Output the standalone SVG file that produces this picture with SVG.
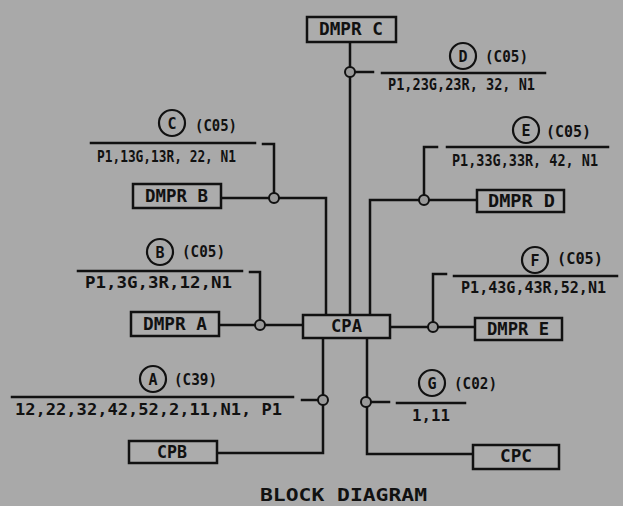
<svg xmlns="http://www.w3.org/2000/svg" width="623" height="506" viewBox="0 0 623 506">
<style>
.bg{fill:#a9a9a9}
.ln{fill:none;stroke:#111;stroke-width:2.5;stroke-linejoin:miter;stroke-linecap:square}
.box{fill:#acacac;stroke:#111;stroke-width:2.5}
.jn{fill:#9a9a9a;stroke:#111;stroke-width:2}
.lc{fill:none;stroke:#111;stroke-width:2.2}
text{font-family:"DejaVu Sans Mono","Liberation Mono",monospace;font-weight:bold;fill:#111}
.bt{font-size:17px}
.lt{font-size:16px}
.pt{font-size:15px}
.ct{font-size:15px;text-anchor:middle}
.tt{font-size:17px}
</style>
<rect class="bg" x="0" y="0" width="623" height="506"/>
<g id="connectors">
<polyline class="ln" points="350,42 350,315"/>
<polyline class="ln" points="355,72 373,72"/>
<polyline class="ln" points="382,73 545,73"/>
<polyline class="ln" points="221,198 326,198 326,315"/>
<polyline class="ln" points="274,193 274,144 263,144"/>
<polyline class="ln" points="91,143 255,143"/>
<polyline class="ln" points="370,315 370,200 477,200"/>
<polyline class="ln" points="424,195 424,147 437,147"/>
<polyline class="ln" points="447,147 608,147"/>
<polyline class="ln" points="219,325 303,325"/>
<polyline class="ln" points="260,320 260,272 250,272"/>
<polyline class="ln" points="78,271 242,271"/>
<polyline class="ln" points="390,327 475,327"/>
<polyline class="ln" points="433,322 433,274 446,274"/>
<polyline class="ln" points="454,276 617,276"/>
<polyline class="ln" points="323,339 323,453 217,453"/>
<polyline class="ln" points="318,400 302,400"/>
<polyline class="ln" points="12,397 293,397"/>
<polyline class="ln" points="367,339 367,454 473,454"/>
<polyline class="ln" points="371,402 389,402"/>
<polyline class="ln" points="397,403 465,403"/>
<circle class="jn" cx="350" cy="72" r="5"/>
<circle class="jn" cx="274" cy="198" r="5"/>
<circle class="jn" cx="424" cy="200" r="5"/>
<circle class="jn" cx="260" cy="325" r="5"/>
<circle class="jn" cx="433" cy="327" r="5"/>
<circle class="jn" cx="323" cy="400" r="5"/>
<circle class="jn" cx="366" cy="402" r="5"/>
</g>
<g id="dmpr-c"><rect class="box" x="307" y="17" width="89" height="25"/><text class="bt" x="319" y="35" textLength="64" lengthAdjust="spacingAndGlyphs">DMPR C</text></g>
<g id="dmpr-b"><rect class="box" x="133" y="184" width="88" height="24"/><text class="bt" x="145" y="202" textLength="63" lengthAdjust="spacingAndGlyphs">DMPR B</text></g>
<g id="dmpr-d"><rect class="box" x="477" y="190" width="87" height="22"/><text class="bt" x="488" y="207" textLength="67" lengthAdjust="spacingAndGlyphs">DMPR D</text></g>
<g id="dmpr-a"><rect class="box" x="131" y="312" width="88" height="24"/><text class="bt" x="143" y="330" textLength="64" lengthAdjust="spacingAndGlyphs">DMPR A</text></g>
<g id="cpa"><rect class="box" x="303" y="315" width="87" height="23"/><text class="bt" x="331" y="332" textLength="31" lengthAdjust="spacingAndGlyphs">CPA</text></g>
<g id="dmpr-e"><rect class="box" x="475" y="318" width="87" height="22"/><text class="bt" x="487" y="335" textLength="62" lengthAdjust="spacingAndGlyphs">DMPR E</text></g>
<g id="cpb"><rect class="box" x="129" y="441" width="88" height="22"/><text class="bt" x="157" y="458" textLength="30" lengthAdjust="spacingAndGlyphs">CPB</text></g>
<g id="cpc"><rect class="box" x="473" y="445" width="86" height="24"/><text class="bt" x="500" y="462" textLength="32" lengthAdjust="spacingAndGlyphs">CPC</text></g>
<g id="label-d"><circle class="lc" cx="463" cy="56" r="13"/><text class="ct" x="463" y="61.5">D</text><text class="pt" x="485" y="62" textLength="43" lengthAdjust="spacingAndGlyphs">(C05)</text><text class="lt" x="388" y="90" textLength="147" lengthAdjust="spacingAndGlyphs">P1,23G,23R, 32, N1</text></g>
<g id="label-c"><circle class="lc" cx="172" cy="123" r="13"/><text class="ct" x="172" y="128.5">C</text><text class="pt" x="195" y="131" textLength="42" lengthAdjust="spacingAndGlyphs">(C05)</text><text class="lt" x="97" y="162" textLength="139" lengthAdjust="spacingAndGlyphs">P1,13G,13R, 22, N1</text></g>
<g id="label-e"><circle class="lc" cx="526" cy="130" r="13"/><text class="ct" x="526" y="135.5">E</text><text class="pt" x="546" y="137" textLength="45" lengthAdjust="spacingAndGlyphs">(C05)</text><text class="lt" x="452" y="166" textLength="146" lengthAdjust="spacingAndGlyphs">P1,33G,33R, 42, N1</text></g>
<g id="label-b"><circle class="lc" cx="160" cy="252" r="13"/><text class="ct" x="160" y="257.5">B</text><text class="pt" x="182" y="257" textLength="43" lengthAdjust="spacingAndGlyphs">(C05)</text><text class="lt" x="85" y="288" textLength="147" lengthAdjust="spacingAndGlyphs">P1,3G,3R,12,N1</text></g>
<g id="label-f"><circle class="lc" cx="535" cy="260" r="13"/><text class="ct" x="535" y="265.5">F</text><text class="pt" x="557" y="264" textLength="46" lengthAdjust="spacingAndGlyphs">(C05)</text><text class="lt" x="461" y="293" textLength="145" lengthAdjust="spacingAndGlyphs">P1,43G,43R,52,N1</text></g>
<g id="label-a"><circle class="lc" cx="153" cy="379" r="13"/><text class="ct" x="153" y="384.5">A</text><text class="pt" x="174" y="385" textLength="43" lengthAdjust="spacingAndGlyphs">(C39)</text><text class="lt" x="15" y="415" textLength="267" lengthAdjust="spacingAndGlyphs">12,22,32,42,52,2,11,N1, P1</text></g>
<g id="label-g"><circle class="lc" cx="432" cy="383" r="13"/><text class="ct" x="432" y="388.5">G</text><text class="pt" x="454" y="389" textLength="43" lengthAdjust="spacingAndGlyphs">(C02)</text><text class="lt" x="412" y="421" textLength="38" lengthAdjust="spacingAndGlyphs">1,11</text></g>
<text class="tt" x="260" y="501" textLength="167" lengthAdjust="spacingAndGlyphs">BLOCK DIAGRAM</text>
</svg>
